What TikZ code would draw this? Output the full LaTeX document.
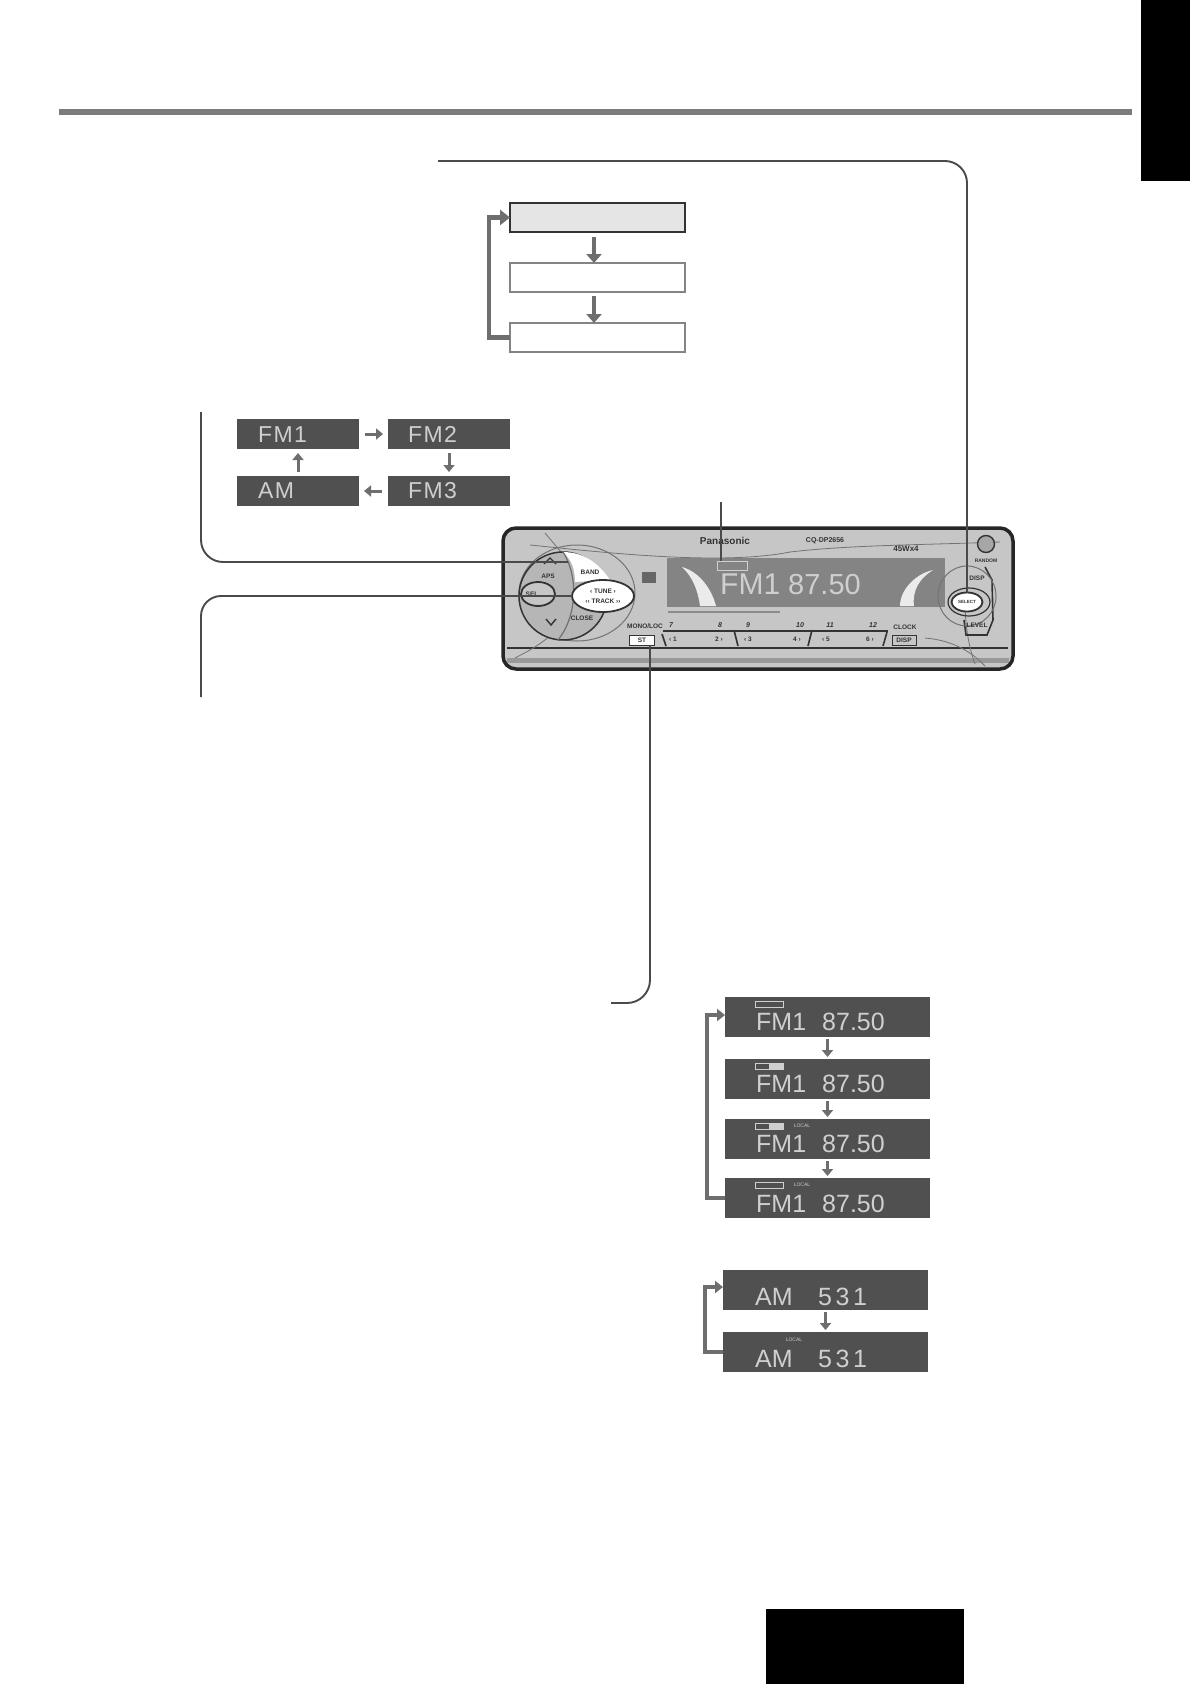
\documentclass[tikz,border=0pt]{standalone}
\usepackage{fontspec}
\setmainfont{Liberation Sans}
\newfontfamily\lcdwide[LetterSpace=14]{Liberation Sans}
\newfontfamily\lcdtrack[LetterSpace=6]{Liberation Sans}
\usetikzlibrary{arrows.meta,shapes.geometric}
\definecolor{lcdbg}{HTML}{505050}
\definecolor{lcdtx}{HTML}{CFCFCF}
\definecolor{flowc}{HTML}{6E6E6E}
\definecolor{leadc}{HTML}{4A4A4A}
\definecolor{panelc}{HTML}{C6C6C6}
\definecolor{dispc}{HTML}{848484}
\definecolor{panelink}{HTML}{333333}
\tikzset{
  lcdbox/.style={fill=lcdbg,draw=none,inner sep=0,outer sep=0,anchor=north west},
  smallbox/.style={lcdbox,minimum width=122,minimum height=30},
  rowbox/.style={lcdbox,minimum width=205,minimum height=40},
  lcdbig/.style={text=lcdtx,inner sep=0,anchor=base west,font=\fontsize{25}{25}\selectfont},
  lcdsmall/.style={text=lcdtx,inner sep=0,anchor=base west,font=\lcdtrack\fontsize{23}{23}\selectfont},
  tinylcd/.style={text=lcdtx,inner sep=0,font=\fontsize{5}{5}\selectfont},
  modebox/.style={draw=lcdbg!70,line width=1.2pt,fill=white,inner sep=0,outer sep=0,anchor=north west,minimum width=175,minimum height=29},
  flow/.style={draw=flowc,line width=4.5pt,-{Triangle[length=9pt,width=15pt]}},
  flowsmall/.style={draw=flowc,line width=3pt,-{Triangle[length=7pt,width=11pt]}},
  loopline/.style={draw=flowc,line width=4.5pt,-{Triangle[length=10pt,width=15pt]}},
  loopthin/.style={draw=flowc,line width=3.2pt,-{Triangle[length=8pt,width=12pt]}},
  leader/.style={draw=leadc,line width=1.9pt},
  plabel/.style={text=panelink,inner sep=0,font=\fontsize{6.5}{6.5}\selectfont\bfseries},
  ind/.style={draw=lcdtx,line width=.7pt,inner sep=0,minimum width=28,minimum height=6},
  oval/.style={ellipse,draw=panelink,line width=1.8pt,inner sep=0,outer sep=0},
}
\begin{document}
\begin{tikzpicture}[x=1pt,y=-1pt]
\useasboundingbox (0,0) rectangle (1190,1684);
\fill[white] (0,0) rectangle (1190,1684);
% page furniture
\fill[black] (1141,0) rectangle (1190,181);
\fill[black] (766,1609) rectangle (964,1684);
\fill[flowc!90] (59,109) rectangle (1132,115);

% mode boxes
\node[modebox,draw=panelink,line width=1.8pt,fill=black!10] (m1) at (510,203) {};
\node[modebox] (m2) at (510,263) {};
\node[modebox] (m3) at (510,323) {};
\coordinate (a1s) at (594,237);
\draw[flow] (a1s) -- (a1s |- m2.north);
\coordinate (a2s) at (594,296);
\draw[flow] (a2s) -- (a2s |- m3.north);
\draw[loopline] (m3.west) -- ++(-21,0) |- (m1.west);

% band cycle
\node[smallbox] (fm1) at (237,419) {};
\node[smallbox] (fm2) at (388,419) {};
\node[smallbox] (fm3) at (388,476) {};
\node[smallbox] (am) at (237,476) {};
\node[lcdsmall] (fm1t) at (258,442) {FM1};
\node[lcdsmall] (fm2t) at (408,442) {FM2};
\node[lcdsmall] (fm3t) at (408,498) {FM3};
\node[lcdsmall] (amt) at (258,498) {AM};
\draw[flowsmall,shorten <=6pt,shorten >=5pt] (fm1.east) -- (fm2.west);
\draw[flowsmall,shorten <=4pt,shorten >=4pt] (fm2.south) -- (fm3.north);
\draw[flowsmall,shorten <=6pt,shorten >=5pt] (fm3.west) -- (am.east);
\draw[flowsmall,shorten <=4pt,shorten >=4pt] (am.north) -- (fm1.south);

% head unit body
\node[draw=black!85,line width=3.5pt,fill=panelc,rounded corners=13pt,inner sep=0,outer sep=0,anchor=north west,minimum width=510,minimum height=141] (panel) at (503,528) {};
\draw[black!55,line width=.8pt] (530,545) .. controls (600,552) and (720,566) .. (790,552) .. controls (850,545) and (920,545) .. (1000,542);
\fill[black!22] (507,650) rectangle (1009,658);
\fill[black!40] (507,658) rectangle (1009,663);
\draw[panelink,line width=1.4pt] (507,648) -- (1008,648);
\draw[black!55,line width=.8pt] (515,658) .. controls (530,650) and (535,648) .. (550,636);
\draw[black!55,line width=.8pt] (925,638) .. controls (950,640) and (970,650) .. (985,666);
\draw[black!55,line width=.8pt] (545,533) -- (572,565);
\draw[black!55,line width=.8pt] (965,600) .. controls (965,630) and (970,650) .. (975,664);

% left control cluster
\node[ellipse,draw=black!55,line width=1pt,minimum width=116,minimum height=96,inner sep=0] (outerring) at (577,593) {};
\fill[panelc!92!black,draw=panelink,line width=1.5pt] (563,596) circle (44);
\fill[white] (563,552) .. controls (585,552) and (600,565) .. (610,580) -- (575,582) .. controls (575,570) and (572,560) .. (563,552) -- cycle;
\draw[panelink!70,line width=1.2pt] (563,552) .. controls (578,575) and (578,615) .. (558,640);
\node[oval,fill=panelc,minimum width=34,minimum height=24] (selbtn) at (538,594) {};
\node[oval,fill=white,minimum width=62,minimum height=32] (tunebtn) at (603,596) {};
\node[plabel] (lband) at (590,572) {BAND};
\node[plabel] (ltune) at (603,591) {‹ TUNE ›};
\node[plabel] (ltrack) at (603,601) {‹‹ TRACK ››};
\node[plabel] (lsel) at (532,594) {SEL};
\node[plabel] (laps) at (548,576) {APS};
\node[plabel] (lclose) at (582,618) {CLOSE};
\draw[panelink,line width=1.2pt] (544,564) -- (550,558) -- (556,564);
\draw[panelink,line width=1.4pt] (546,619) -- (551,625) -- (556,619);

% small logo, cd mark
\fill[black!60] (642,572) rectangle (656,583);
\node[plabel,font=\fontsize{10}{10}\selectfont\bfseries] (brand) at (725,541) {Panasonic};
\node[plabel,font=\fontsize{7}{7}\selectfont\bfseries] (model) at (825,541) {CQ-DP2656};
\node[plabel,font=\fontsize{8}{8}\selectfont\bfseries] (watts) at (906,549) {45Wx4};

% display
\node[lcdbox,fill=dispc,minimum width=278,minimum height=49] (disp) at (667,558) {};
\fill[black!8] (682,567) .. controls (700,572) and (712,590) .. (716,606) -- (700,606) .. controls (698,590) and (692,576) .. (682,567) -- cycle;
\fill[black!8] (933,570) .. controls (915,574) and (900,590) .. (900,606) -- (914,606) .. controls (912,590) and (920,578) .. (933,570) -- cycle;
\node[ind,minimum width=30,minimum height=9] (dispind) at (732,565.5) {};
\node[text=lcdtx,inner sep=0,anchor=base west,font=\fontsize{30}{30}\selectfont] (dfm) at (720,594) {FM1};
\node[text=lcdtx,inner sep=0,anchor=base west,font=\fontsize{29}{29}\selectfont] (dfreq) at (788,594) {87.50};
\fill[black!45] (668,611) rectangle (780,613);

% preset keys
\node[plabel] (mono) at (645,626) {MONO/LOC};
\foreach \nm/\x/\t in {p7/671/7,p8/720/8,p9/748/9,p10/800/10,p11/830/11,p12/873/12}
  \node[plabel,font=\fontsize{7}{7}\selectfont\itshape\bfseries] (\nm) at (\x,625) {\t};
\node[plabel] (clock) at (905,627) {CLOCK};
\draw[panelink,line width=1.2pt] (663,631) -- (888,631);
\draw[panelink,line width=1.6pt] (662,634) -- (666,646) (734,630) -- (738,646) (812,630) -- (808,646) (887,632) -- (883,646);
\node[draw=panelink,line width=1pt,fill=white,inner sep=0,minimum width=25,minimum height=10,plabel] (stbtn) at (642,640) {ST};
\node[draw=panelink,line width=1pt,fill=panelc,inner sep=0,minimum width=24,minimum height=10,plabel] (dispbtn) at (904,640) {DISP};
\foreach \nm/\x/\t in {k1/673/‹ 1,k2/719/2 ›,k3/748/‹ 3,k4/797/4 ›,k5/826/‹ 5,k6/870/6 ›}
  \node[plabel] (\nm) at (\x,639) {\t};

% right control cluster
\draw[panelink,line width=1.6pt] (985,567) -- (992,580) -- (993,620) -- (987,635) -- (966,635) -- (964,620);
\node[ellipse,draw=black!55,line width=1pt,minimum width=58,minimum height=60,inner sep=0] (ringr) at (967,596) {};
\node[oval,fill=white,minimum width=31,minimum height=19] (selectbtn) at (967,602) {};
\node[oval,fill=none,line width=1.2pt,minimum width=42,minimum height=28] (selectring) at (969,602) {};
\node[plabel,font=\fontsize{4.5}{4.5}\selectfont\bfseries] (lselect) at (967,602) {SELECT};
\node[plabel] (ldisp) at (977,578) {DISP};
\node[plabel] (llevel) at (977,625) {LEVEL};
\node[plabel,font=\fontsize{5}{5}\selectfont\bfseries] (lrand) at (986,561) {RANDOM};
\node[circle,draw=panelink,line width=1.4pt,fill=black!35,minimum size=17,inner sep=0] (knob) at (986,544) {};

% leaders
\coordinate (topstart) at (438,161);
\coordinate (leftstart) at (201,412);
\coordinate (left2start) at (201,697);
\coordinate (dispstart) at (721,502);
\coordinate (botend) at (611,1003);
\draw[leader] (topstart) -- (945,161) arc[start angle=-90,end angle=0,radius=22] -- (selectbtn.north);
\draw[leader] (leftstart) -- (201,540) arc[start angle=180,end angle=90,radius=22] -- (568,562);
\draw[leader] (left2start) -- (201,616) arc[start angle=180,end angle=270,radius=20] -- (tunebtn.west);
\draw[leader] (dispstart) -- (dispind.north -| dispstart);
\draw[leader] (650,645) -- (650,980) arc[start angle=0,end angle=90,radius=23] -- (botend);

% FM local cycle
\node[rowbox] (r1) at (725,997) {};
\node[rowbox] (r2) at (725,1059) {};
\node[rowbox] (r3) at (725,1119) {};
\node[rowbox] (r4) at (725,1178) {};
\foreach \nm/\y in {r1/1030,r2/1092,r3/1152,r4/1212} {
  \node[lcdbig] (\nm a) at (756,\y) {FM1};
  \node[lcdbig] (\nm b) at (822,\y) {87.50};
}
\node[ind] (i1) at (769,1004.5) {};
\node[ind] (i2) at (769,1066) {};
\fill[lcdtx] (769,1063) rectangle (783,1069);
\node[ind] (i3) at (769,1126) {};
\fill[lcdtx] (769,1123) rectangle (783,1129);
\node[ind] (i4) at (769,1185) {};
\node[tinylcd] (l3) at (802,1126) {LOCAL};
\node[tinylcd] (l4) at (802,1185) {LOCAL};
\draw[flowsmall,shorten <=2pt,shorten >=2pt] (r1.south) -- (r2.north);
\draw[flowsmall,shorten <=2pt,shorten >=2pt] (r2.south) -- (r3.north);
\draw[flowsmall,shorten <=2pt,shorten >=2pt] (r3.south) -- (r4.north);
\draw[loopthin] (r4.west) -- (707,1198) -- (707,1015) -- (r1.west |- 0,1015);

% AM local cycle
\node[rowbox] (a1) at (723,1270) {};
\node[rowbox] (a2) at (723,1332) {};
\foreach \nm/\y in {a1/1305,a2/1367} {
  \node[lcdbig] (\nm a) at (755,\y) {AM};
  \node[lcdbig] (\nm b) at (818,\y) {\lcdwide 531};
}
\node[tinylcd] (l5) at (794,1340) {LOCAL};
\draw[flowsmall,shorten <=2pt,shorten >=2pt] (a1.south) -- (a2.north);
\draw[loopthin] (a2.west) -- (705,1352) -- (705,1287) -- (a1.west |- 0,1287);
\end{tikzpicture}
\end{document}
